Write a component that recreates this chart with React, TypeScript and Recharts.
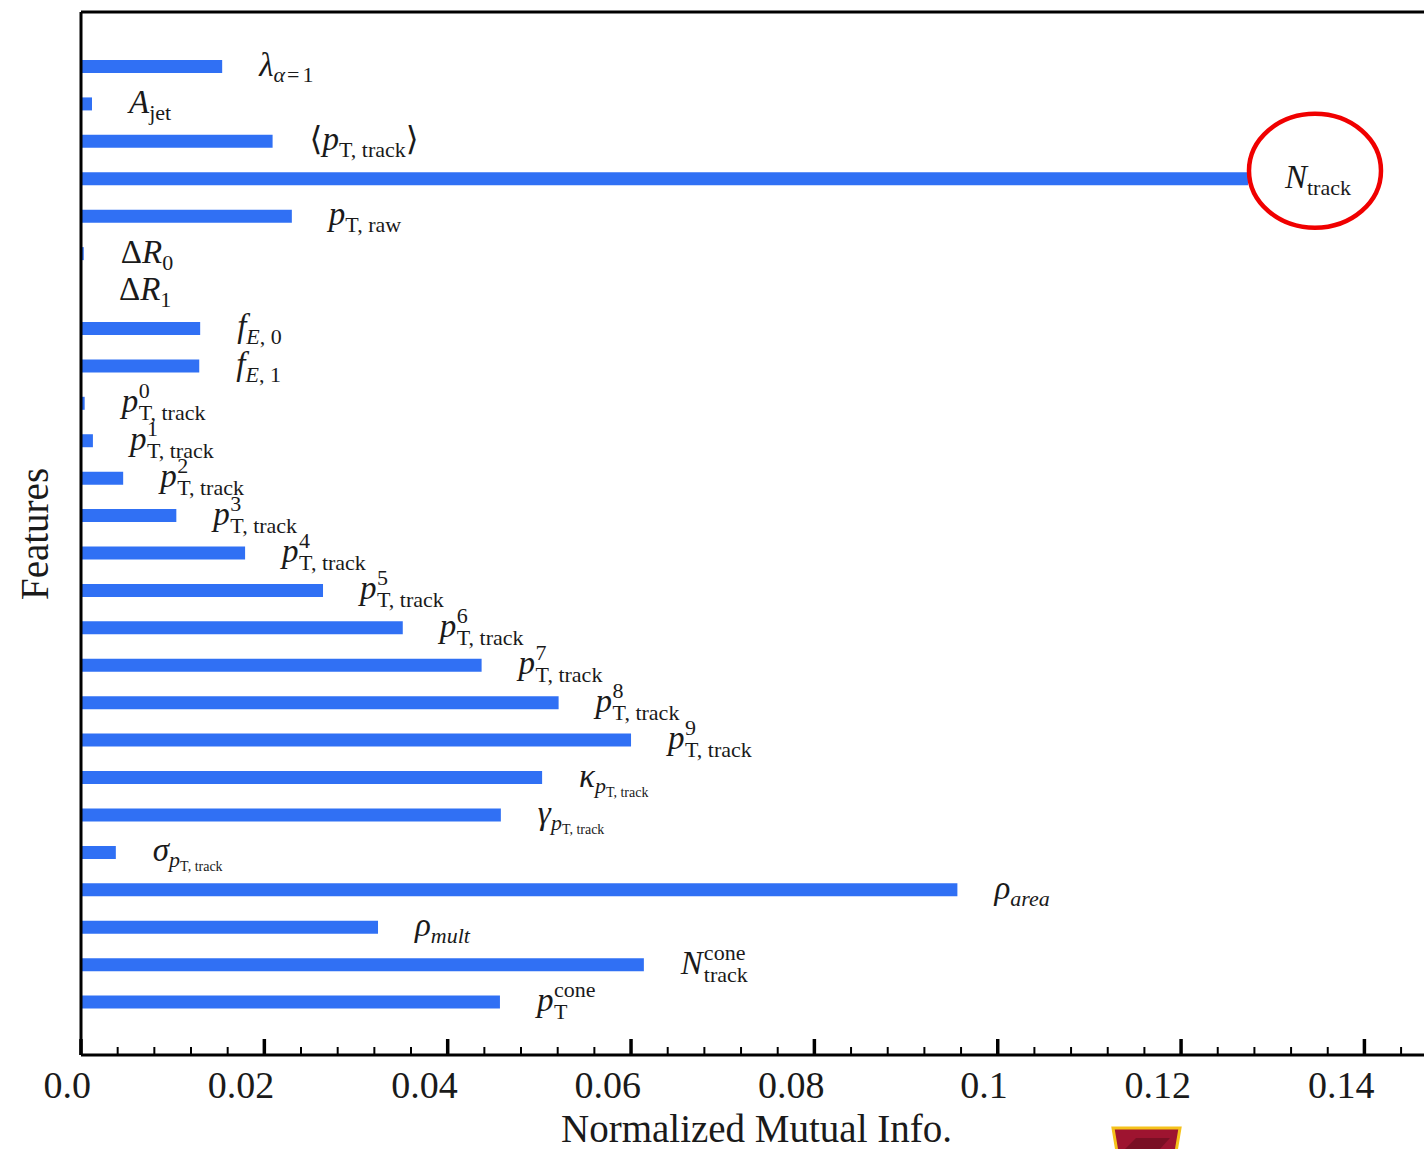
import React from 'react';
import { BarChart, Bar, XAxis, YAxis, LabelList } from 'recharts';

// feature keys, top to bottom
const FEATURES = [
  'lambda', 'Ajet', 'meanPtTrack', 'Ntrack', 'ptRaw', 'dR0', 'dR1', 'fE0', 'fE1',
  'pt0', 'pt1', 'pt2', 'pt3', 'pt4', 'pt5', 'pt6', 'pt7', 'pt8', 'pt9',
  'kappa', 'gamma', 'sigma', 'rhoArea', 'rhoMult', 'Ncone', 'ptCone',
];

// normalized mutual information per feature
const MUTUAL_INFO = [
  0.0154, 0.0012, 0.0209, 0.1273, 0.0230, 0.0003, 0.0001, 0.0130, 0.0129,
  0.0004, 0.0013, 0.0046, 0.0104, 0.0179, 0.0264, 0.0351, 0.0437, 0.0521, 0.0600,
  0.0503, 0.0458, 0.0038, 0.0956, 0.0324, 0.0614, 0.0457,
];

const MAJOR_TICKS = [0, 0.02, 0.04, 0.06, 0.08, 0.1, 0.12, 0.14];
const MINOR_TICKS = [
  0.004, 0.008, 0.012, 0.016, 0.024, 0.028, 0.032, 0.036,
  0.044, 0.048, 0.052, 0.056, 0.064, 0.068, 0.072, 0.076,
  0.084, 0.088, 0.092, 0.096, 0.104, 0.108, 0.112, 0.116,
  0.124, 0.128, 0.132, 0.136, 0.144,
];
const X_MAX = 0.1465;

const data = FEATURES.map((key, i) => ({ key, value: MUTUAL_INFO[i] }));
const allTicks = [...MAJOR_TICKS, ...MINOR_TICKS].sort((a, b) => a - b);

const SERIF = '"Liberation Serif", "DejaVu Serif", "Times New Roman", serif';
const INK = '#1a1a1a';
const BLUE = '#3070f4';
const M = 33; // main glyph size of feature labels
const S = 22; // script size
const SS = 14; // second-level script size

// p^{n}_{T, track} style label with stacked scripts
const stacked = (base: string, baseW: number, sup: string, sub: string) => (
  <>
    <text fontStyle="italic" fontSize={M}>{base}</text>
    <text x={baseW} y={-14} fontSize={S}>{sup}</text>
    <text x={baseW} y={8} fontSize={S}>{sub}</text>
  </>
);

// greek symbol with p_{T, track} as its subscript
const ofPtTrack = (sym: string) => (
  <text fontSize={M}>
    <tspan fontStyle="italic">{sym}</tspan>
    <tspan fontStyle="italic" fontSize={S} dy={6}>p</tspan>
    <tspan fontSize={SS} dy={4}>T, track</tspan>
  </text>
);

const LABELS: Record<string, React.ReactNode> = {
  lambda: (
    <text fontSize={M}>
      <tspan fontStyle="italic">λ</tspan>
      <tspan fontStyle="italic" fontSize={S} dy={6}>α</tspan>
      <tspan fontSize={S} dx={2}>=</tspan>
      <tspan fontSize={S} dx={3}>1</tspan>
    </text>
  ),
  Ajet: (
    <text fontSize={M}>
      <tspan fontStyle="italic">A</tspan>
      <tspan fontSize={S} dy={7}>jet</tspan>
    </text>
  ),
  meanPtTrack: (
    <text fontSize={M}>
      <tspan>⟨</tspan>
      <tspan fontStyle="italic">p</tspan>
      <tspan fontSize={S} dy={7}>T, track</tspan>
      <tspan dy={-7}>⟩</tspan>
    </text>
  ),
  Ntrack: (
    <text fontSize={M}>
      <tspan fontStyle="italic">N</tspan>
      <tspan fontSize={S} dy={7}>track</tspan>
    </text>
  ),
  ptRaw: (
    <text fontSize={M}>
      <tspan fontStyle="italic">p</tspan>
      <tspan fontSize={S} dy={7}>T, raw</tspan>
    </text>
  ),
  dR0: (
    <text fontSize={M}>
      <tspan>Δ</tspan>
      <tspan fontStyle="italic">R</tspan>
      <tspan fontSize={S} dy={7}>0</tspan>
    </text>
  ),
  dR1: (
    <text fontSize={M}>
      <tspan>Δ</tspan>
      <tspan fontStyle="italic">R</tspan>
      <tspan fontSize={S} dy={7}>1</tspan>
    </text>
  ),
  fE0: (
    <text fontSize={M}>
      <tspan fontStyle="italic">f</tspan>
      <tspan fontStyle="italic" fontSize={S} dy={7}>E</tspan>
      <tspan fontSize={S}>, 0</tspan>
    </text>
  ),
  fE1: (
    <text fontSize={M}>
      <tspan fontStyle="italic">f</tspan>
      <tspan fontStyle="italic" fontSize={S} dy={7}>E</tspan>
      <tspan fontSize={S}>, 1</tspan>
    </text>
  ),
  pt0: stacked('p', 17, '0', 'T, track'),
  pt1: stacked('p', 17, '1', 'T, track'),
  pt2: stacked('p', 17, '2', 'T, track'),
  pt3: stacked('p', 17, '3', 'T, track'),
  pt4: stacked('p', 17, '4', 'T, track'),
  pt5: stacked('p', 17, '5', 'T, track'),
  pt6: stacked('p', 17, '6', 'T, track'),
  pt7: stacked('p', 17, '7', 'T, track'),
  pt8: stacked('p', 17, '8', 'T, track'),
  pt9: stacked('p', 17, '9', 'T, track'),
  kappa: ofPtTrack('κ'),
  gamma: ofPtTrack('γ'),
  sigma: ofPtTrack('σ'),
  rhoArea: (
    <text fontSize={M}>
      <tspan fontStyle="italic">ρ</tspan>
      <tspan fontStyle="italic" fontSize={S} dy={7}>area</tspan>
    </text>
  ),
  rhoMult: (
    <text fontSize={M}>
      <tspan fontStyle="italic">ρ</tspan>
      <tspan fontStyle="italic" fontSize={S} dy={7}>mult</tspan>
    </text>
  ),
  Ncone: stacked('N', 23, 'cone', 'track'),
  ptCone: stacked('p', 17, 'cone', 'T'),
};

const FeatureLabel = (props: any) => {
  const { x, y, width, height, value } = props;
  const lx = Number(x) + Number(width) + 37;
  const cy = Number(y) + Number(height) / 2;
  return (
    <g>
      <g transform={`translate(${lx}, ${cy + 9})`} fill={INK} fontFamily={SERIF}>
        {LABELS[value]}
      </g>
      {value === 'Ntrack' && (
        <ellipse cx={lx + 30} cy={cy - 8} rx={66} ry={57} fill="none" stroke="#f00000" strokeWidth={4.5} />
      )}
    </g>
  );
};

const fmtTick = (v: number) => (v === 0 ? '0.0' : String(Number(v.toFixed(2))));

// inward ticks; the numbers sit right-aligned just past the major tick
const AxisTick = (props: any) => {
  const { x, y, payload } = props;
  const v = payload.value as number;
  const major = MAJOR_TICKS.some((t) => Math.abs(t - v) < 1e-9);
  return (
    <g>
      <line x1={x} x2={x} y1={y} y2={y - (major ? 16 : 8)} stroke="#000" strokeWidth={major ? 3.5 : 2} />
      {major && (
        <text x={x + 10} y={y + 43} textAnchor="end" fontFamily={SERIF} fontSize={38} fill={INK}>
          {fmtTick(v)}
        </text>
      )}
    </g>
  );
};

const XTitle = (props: any) => {
  const { viewBox } = props;
  return (
    <text x={viewBox.x + viewBox.width / 2 + 4} y={viewBox.y + 87} textAnchor="middle"
      fontFamily={SERIF} fontSize={39} fill={INK}>
      Normalized Mutual Info.
    </text>
  );
};

const YTitle = () => (
  <text transform="translate(48, 534) rotate(-90)" textAnchor="middle"
    fontFamily={SERIF} fontSize={39} fill={INK}>
    Features
  </text>
);

export default function App() {
  return (
    <div style={{ position: 'absolute', left: 0, top: 0, width: 1424, height: 1149, background: '#fff', overflow: 'hidden' }}>
      <BarChart
        width={1424}
        height={1149}
        data={data}
        layout="vertical"
        margin={{ top: 11, right: 0, bottom: 34, left: 80 }}
      >
        <XAxis
          type="number"
          dataKey="value"
          domain={[0, X_MAX]}
          allowDataOverflow
          ticks={allTicks}
          interval={0}
          tickSize={0}
          tickMargin={0}
          tickLine={false}
          tick={<AxisTick />}
          height={60}
          axisLine={{ stroke: '#000', strokeWidth: 3 }}
          label={<XTitle />}
        />
        <XAxis
          xAxisId="top"
          orientation="top"
          type="number"
          domain={[0, X_MAX]}
          height={1}
          tick={false}
          tickLine={false}
          axisLine={{ stroke: '#000', strokeWidth: 3 }}
        />
        <YAxis
          type="category"
          dataKey="key"
          width={1}
          padding={{ top: 36, bottom: 34 }}
          tick={false}
          tickLine={false}
          axisLine={{ stroke: '#000', strokeWidth: 3 }}
          label={<YTitle />}
        />
        <Bar dataKey="value" fill={BLUE} barSize={13} isAnimationActive={false}>
          <LabelList dataKey="key" content={<FeatureLabel />} />
        </Bar>
      </BarChart>
      {/* emblem peeking in at the bottom edge */}
      <svg width={1424} height={1149} style={{ position: 'absolute', left: 0, top: 0, pointerEvents: 'none' }}>
        <polygon points="1113,1128 1180,1128 1176,1152 1117,1152" fill="#9e1430" stroke="#f5c21b" strokeWidth={3} />
        <polygon points="1125,1149 1136,1138 1170,1138 1160,1149" fill="#7a0f24" />
      </svg>
    </div>
  );
}
